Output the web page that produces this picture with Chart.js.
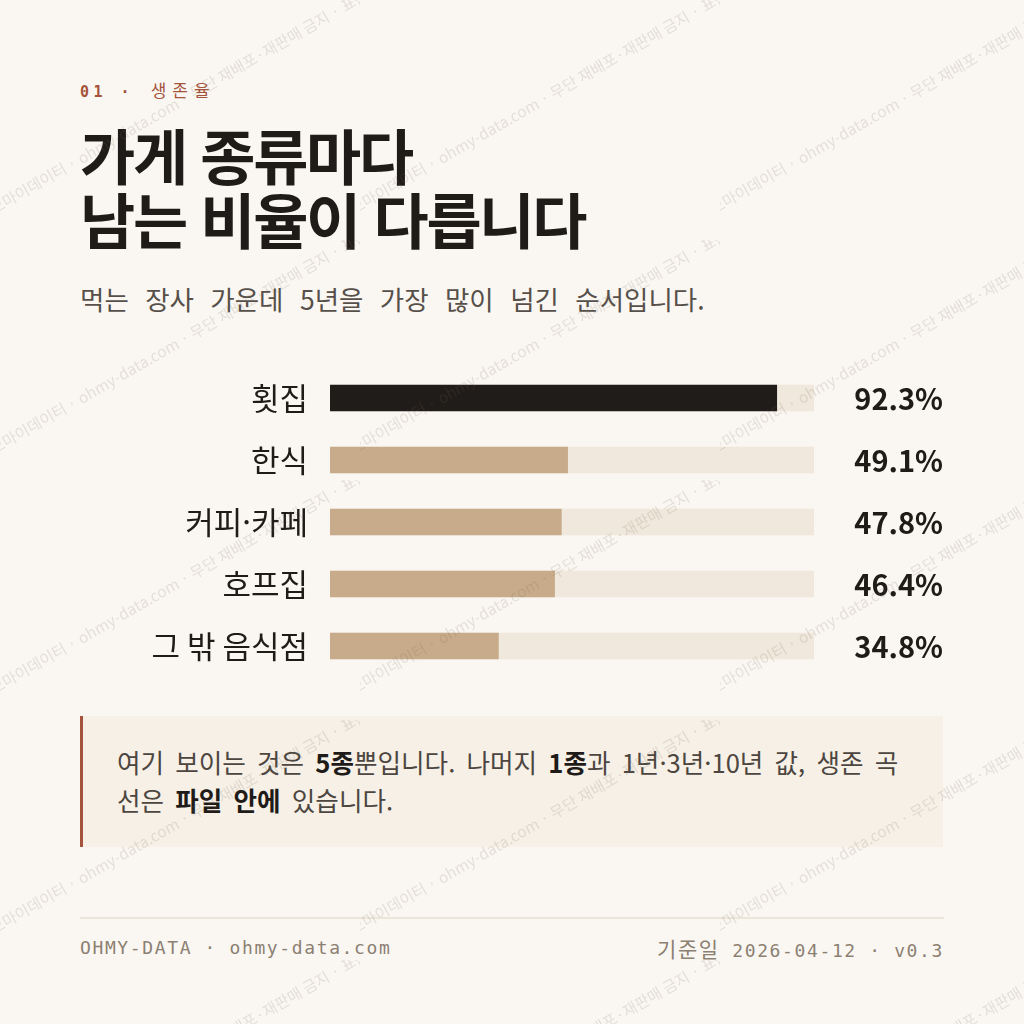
<!DOCTYPE html>
<html lang="ko">
<head>
<meta charset="utf-8">
<script src="https://cdn.jsdelivr.net/npm/chart.js@4"></script>
<style>
  html, body { margin:0; padding:0; }
  body { width:1024px; height:1024px; background:#faf7f2; position:relative; overflow:hidden;
         font-family:"Noto Sans CJK KR","Noto Sans",sans-serif; color:#1f1b18; }
  .abs { position:absolute; }
  #kicker { left:80px; top:80px; font:700 15px/20px "DejaVu Sans Mono",monospace; letter-spacing:0.3em; color:#a5533b; white-space:nowrap; }
  #kicker .ko { font-family:"Noto Sans CJK KR",sans-serif; font-weight:400; font-size:17px; letter-spacing:6px; margin-left:3px; }
  #title { left:80px; top:122px; font-weight:700; font-size:60px; line-height:64px; letter-spacing:-2.3px; margin:0; white-space:nowrap; }
  #subtitle { left:80px; top:281px; font-size:26.5px; line-height:36px; word-spacing:9px; color:#57504a; white-space:nowrap; font-weight:400; }
  #chartWrap { left:80px; top:360px; width:864px; height:320px; }
  #note { left:80px; top:716px; width:792px; background:#f6f0e7; border-left:3px solid #a5533b;
          padding:27px 34px 28px 34px; font-size:25.6px; line-height:38px; word-spacing:4px; color:#4d4640; }
  #note b { color:#1f1b18; font-weight:700; }
  #rule { left:80px; top:917px; width:864px; height:2px; background:#ebe5dc; }
  .foot { top:938px; font:400 18px/20px "DejaVu Sans Mono",monospace; letter-spacing:0.09em; color:#8c8072; white-space:nowrap; }
  .foot .ko { font-family:"Noto Sans CJK KR",sans-serif; font-size:21px; }
  #footL { left:80px; }
  #footR { right:80px; }
  #wm { left:0; top:0; width:1024px; height:1024px; pointer-events:none; }
</style>
</head>
<body>
<div id="kicker" class="abs">01 · <span class="ko">생존율</span></div>
<h1 id="title" class="abs">가게 종류마다<br>남는 비율이 다릅니다</h1>
<div id="subtitle" class="abs">먹는 장사 가운데 5년을 가장 많이 넘긴 순서입니다.</div>
<div id="chartWrap" class="abs"><canvas id="chart" width="864" height="320"></canvas></div>
<div id="note" class="abs">여기 보이는 것은 <b>5종</b>뿐입니다. 나머지 <b>1종</b>과 1년·3년·10년 값, 생존 곡선은 <b>파일 안에</b> 있습니다.</div>
<div id="rule" class="abs"></div>
<div id="footL" class="abs foot">OHMY-DATA · ohmy-data.com</div>
<div id="footR" class="abs foot"><span class="ko">기준일</span> 2026-04-12 · v0.3</div>
<canvas id="wm" class="abs" width="1024" height="1024"></canvas>

<script>
// ---- data ----
const categories = ["횟집", "한식", "커피·카페", "호프집", "그 밖 음식점"];
const survival5y = [92.3, 49.1, 47.8, 46.4, 34.8];
const scaleMax = 100;
const trackValues = [100, 100, 100, 100, 100];
const highlightIndex = 0;

// ---- styles ----
const INK = "#1f1b18";
const BAR_TOP = "#201c19";
const BAR = "#c8ab8a";
const TRACK = "#f0e8dc";
const KO = '"Noto Sans CJK KR", "Noto Sans", sans-serif';

const valueLabels = {
  id: "valueLabels",
  afterDatasetsDraw(chart) {
    const { ctx } = chart;
    const meta = chart.getDatasetMeta(0);
    ctx.save();
    ctx.font = "700 29px " + KO;
    ctx.fillStyle = INK;
    ctx.textAlign = "right";
    ctx.textBaseline = "middle";
    meta.data.forEach((bar, i) => {
      ctx.fillText(survival5y[i].toFixed(1) + "%", chart.width - 1, bar.y + 1);
    });
    ctx.restore();
  }
};

new Chart(document.getElementById("chart"), {
  type: "bar",
  data: {
    labels: categories,
    datasets: [
      {
        data: survival5y,
        backgroundColor: survival5y.map((v, i) => i === highlightIndex ? BAR_TOP : BAR),
        barThickness: 26,
        grouped: false,
        order: 1,
        borderWidth: 0
      },
      {
        data: trackValues,
        backgroundColor: TRACK,
        barThickness: 26,
        grouped: false,
        order: 2,
        borderWidth: 0
      }
    ]
  },
  options: {
    indexAxis: "y",
    responsive: false,
    maintainAspectRatio: false,
    animation: false,
    events: [],
    layout: { padding: { top: 7, bottom: 3, right: 130, left: 0 } },
    plugins: { legend: { display: false }, tooltip: { enabled: false } },
    scales: {
      x: { min: 0, max: scaleMax, display: false },
      y: {
        grid: { display: false, drawTicks: false },
        border: { display: false },
        ticks: { color: INK, padding: 22, font: { family: KO, size: 31, weight: "400" } },
        afterFit(scale) { scale.width = 250; scale.paddingTop = 0; scale.paddingBottom = 0; }
      }
    }
  },
  plugins: [valueLabels]
});

// ---- watermark overlay ----
(function () {
  const wm = document.getElementById("wm");
  const ctx = wm.getContext("2d");
  const tile = document.createElement("canvas");
  tile.width = 360; tile.height = 240;
  const t = tile.getContext("2d");
  t.save();
  t.beginPath(); t.rect(0, 0, 360, 240); t.clip();
  t.translate(-6, 215);
  t.rotate(-30 * Math.PI / 180);
  t.font = "400 15.5px " + KO;
  t.fillStyle = "rgba(120,105,90,0.17)";
  t.textBaseline = "alphabetic";
  t.fillText("오마이데이터 · ohmy-data.com · 무단 재배포·재판매 금지 · 표본", 0, 0);
  t.restore();
  ctx.fillStyle = ctx.createPattern(tile, "repeat");
  ctx.fillRect(0, 0, 1024, 1024);
})();
</script>
</body>
</html>
